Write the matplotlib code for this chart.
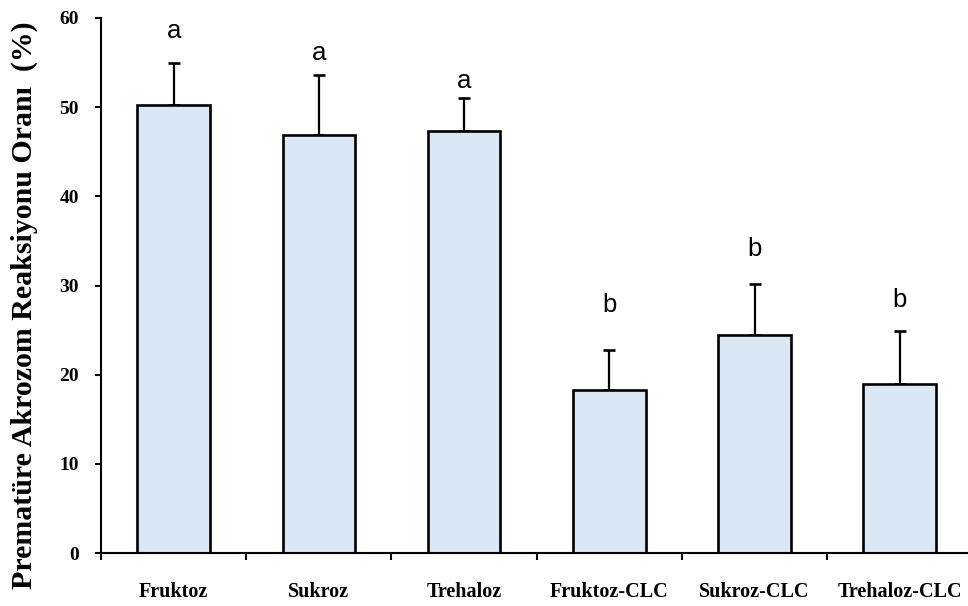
import matplotlib
matplotlib.use("Agg")
import matplotlib.pyplot as plt
import numpy as np

# data
groups = ["Fruktoz", "Sukroz", "Trehaloz", "Fruktoz-CLC", "Sukroz-CLC", "Trehaloz-CLC"]
means = [50.2, 46.9, 47.3, 18.3, 24.4, 19.0]
sd = [4.8, 6.7, 3.7, 4.5, 5.8, 5.9]
letters = ["a", "a", "a", "b", "b", "b"]
letter_y = [57.8, 55.3, 52.1, 27.0, 33.3, 27.6]

SERIF = "Liberation Serif"
SANS = "Liberation Sans"
BAR_COLOR = "#dae7f5"

fig = plt.figure(figsize=(9.68, 6.06), dpi=100)
ax = fig.add_axes([101 / 968, 53 / 606, 867 / 968, 535 / 606])

x = np.arange(len(groups))
ax.bar(x, means, width=0.5, color=BAR_COLOR, edgecolor="black", linewidth=1.9, zorder=2)
ax.errorbar(x, means, yerr=[np.zeros(len(sd)), sd], fmt="none", ecolor="black",
            elinewidth=1.6, capsize=4.5, capthick=1.9, zorder=1)

for xi, lab, ly in zip(x, letters, letter_y):
    ax.text(xi, ly, lab, ha="center", va="baseline", fontsize=18.5, family=SANS)

ax.set_xlim(-0.5, 5.47)
ax.set_ylim(0, 60)
ax.set_yticks(range(0, 61, 10))
ax.set_xticks(x)
ax.set_xticklabels(groups)
ax.set_xticks(np.arange(-0.5, 5.0, 1.0), minor=True)

for sp in ("top", "right"):
    ax.spines[sp].set_visible(False)
for sp in ("left", "bottom"):
    ax.spines[sp].set_linewidth(1.5)

ax.tick_params(axis="x", which="major", length=0, pad=21)
ax.tick_params(axis="x", which="minor", length=5, width=1.5, direction="out")
ax.tick_params(axis="y", length=4, width=1.5, direction="out", pad=12)
for t in ax.get_xticklabels():
    t.set_fontfamily(SERIF)
    t.set_fontweight("bold")
    t.set_fontsize(14.5)
for t in ax.get_yticklabels():
    t.set_fontfamily(SERIF)
    t.set_fontweight("bold")
    t.set_fontsize(14)

fig.text(24 / 968, 1 - 305 / 606, "Prematüre Akrozom Reaksiyonu Oranı  (%)", rotation=90,
         ha="center", va="center", fontsize=21.5, fontweight="bold", family=SERIF)

plt.savefig("out.png", dpi=100)
plt.close()
